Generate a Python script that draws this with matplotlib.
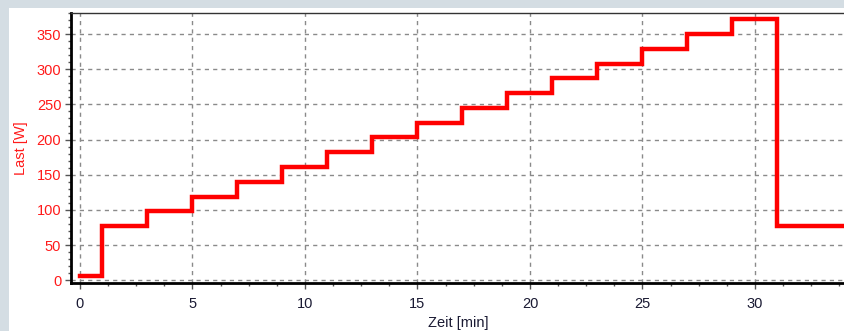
import matplotlib
matplotlib.use("Agg")
import matplotlib.pyplot as plt
from matplotlib.patches import Rectangle
from matplotlib.ticker import MultipleLocator

# step protocol: time [min] where each load level starts, load [W]
times = [0, 1, 3, 5, 7, 9, 11, 13, 15, 17, 19, 21, 23, 25, 27, 29, 31, 36]
loads = [6, 77, 98, 119, 140, 161, 182, 203, 224, 245, 266, 287, 308, 329, 350, 371, 77, 77]

x_ticks = [0, 5, 10, 15, 20, 25, 30]
y_ticks = [0, 50, 100, 150, 200, 250, 300, 350]

plt.rcParams['font.family'] = ['Liberation Sans', 'DejaVu Sans']

W, H = 845, 331
fig = plt.figure(figsize=(W / 100, H / 100), dpi=100)
fig.patch.set_facecolor('#d4dde3')
fig.patches.append(Rectangle((9 / W, 0), 1, 1 - 8 / H, transform=fig.transFigure,
                             facecolor='white', edgecolor='none', zorder=-10))

ax = fig.add_axes([71 / W, (H - 283) / H, (W - 71) / W, (283 - 13) / H])
ax.set_facecolor('white')

ax.step(times, loads, where='post', color='#ff0000', lw=3.2, zorder=3,
        solid_joinstyle='miter')

ax.set_xlim(-0.4, 34)
ax.set_ylim(-4, 380)
ax.set_xticks(x_ticks)
ax.set_yticks(y_ticks)
ax.xaxis.set_minor_locator(MultipleLocator(1.25))
ax.yaxis.set_minor_locator(MultipleLocator(10))

ax.grid(True, which='major', color='#8a8a8a', linestyle=(0, (3, 3)), linewidth=1, zorder=1)

for side in ['left', 'bottom']:
    ax.spines[side].set_linewidth(2)
    ax.spines[side].set_color('black')
ax.spines['top'].set_linewidth(1)
ax.spines['top'].set_color('#333333')
ax.spines['right'].set_visible(False)

ax.tick_params(axis='both', which='major', direction='out', length=4, width=1, color='#555555')
ax.tick_params(axis='both', which='minor', direction='out', length=2.5, width=1, color='#555555')
ax.tick_params(axis='y', labelsize=10.5, labelcolor='#ff1a1a', pad=3)
ax.tick_params(axis='x', labelsize=10.5, labelcolor='#1a1a33', pad=6)

ax.set_ylabel('Last [W]', color='#ff1a1a', fontsize=10.5, labelpad=6)
ax.set_xlabel('Zeit [min]', color='#1a1a33', fontsize=10.5, labelpad=4)

fig.savefig('out.png', dpi=100, facecolor=fig.get_facecolor())
